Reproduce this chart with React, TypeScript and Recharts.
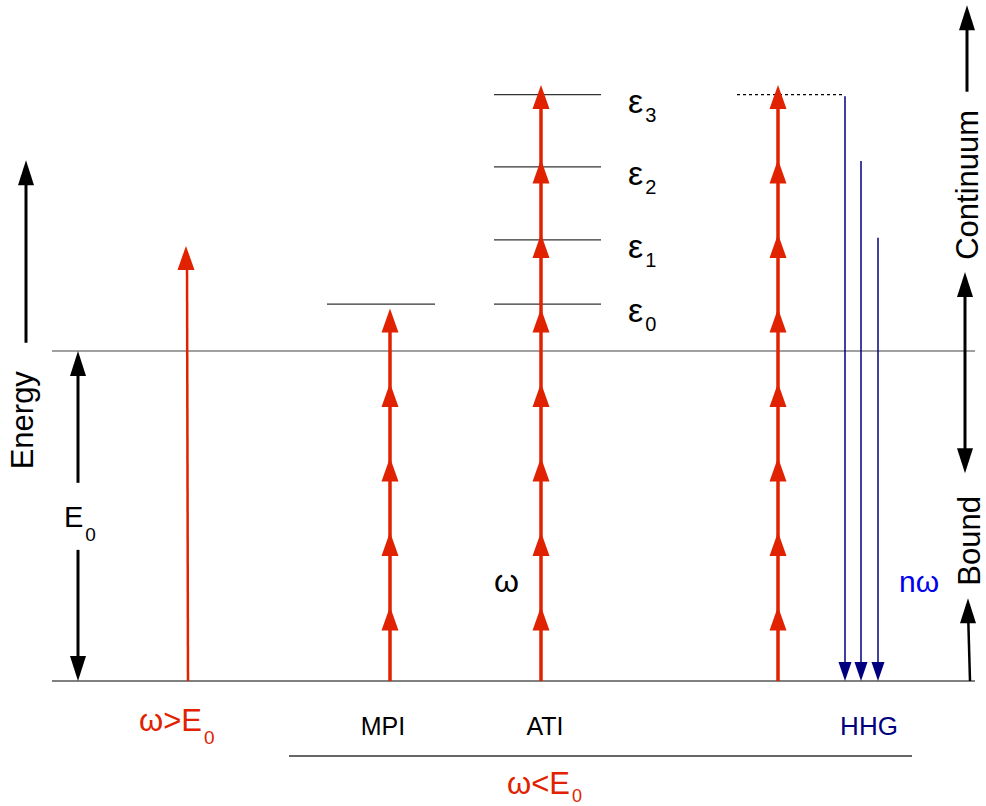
import { ScatterChart, Scatter, XAxis, YAxis, ReferenceLine } from "recharts";

// Energy is measured in photon units (ω = 1), ground state at 0.
const IONISATION = 4.43; // E0
const MPI_PHOTONS = [1, 2, 3, 4, 5];
const ATI_PHOTONS = [1, 2, 3, 4, 5, 6, 7, 8];
const HHG_PHOTONS = [1, 2, 3, 4, 5, 6, 7, 8];
const MPI_LEVEL = 5.06;
const ATI_LEVELS = [5.06, 5.92, 6.9, 7.87]; // ε0..ε3
const ATI_SUBSCRIPTS = ["0", "1", "2", "3"];
const SINGLE_PHOTON = 5.84; // ω > E0
const HHG_EMISSION = [7.85, 6.98, 5.95]; // nω recombination lines
const PROCESS_NAMES = ["MPI", "ATI", "HHG"];

const RED = "#e02200";
const NAVY = "#00007f";
const BLUE = "#0000ee";
const FONT = "'Liberation Sans', Arial, sans-serif";

// column positions on the horizontal axis
const X_SINGLE = 187;
const X_MPI = 390;
const X_ATI = 541;
const X_HHG = 778;
const X_EMIT = [845, 861, 878];

const Y_MIN = -1.678;
const Y_MAX = 9.141;

type Pt = { x: number; y: number; [k: string]: any };

const head =
  (color: string, w: number, h: number, dir: "up" | "down") =>
  (props: any) => {
    const { cx, cy } = props;
    const s = dir === "up" ? 1 : -1;
    const d = `M${cx},${cy} L${cx - w / 2},${cy + s * h} L${cx + w / 2},${cy + s * h} Z`;
    return <path d={d} fill={color} />;
  };

const label = (props: any) => {
  const { cx, cy, payload } = props;
  const p = payload;
  const tr = p.rotate ? `rotate(${p.rotate} ${cx} ${cy})` : undefined;
  return (
    <text
      x={cx}
      y={cy + (p.dy || 0)}
      transform={tr}
      fill={p.color || "#000"}
      fontSize={p.size}
      fontFamily={FONT}
      textAnchor={p.anchor || "start"}
      dominantBaseline={p.rotate ? "central" : "alphabetic"}
    >
      {p.text}
      {p.sub && (
        <tspan fontSize={p.subSize || 19} dx={p.subDx || 2} dy={p.subDy || 12}>
          {p.sub}
        </tspan>
      )}
    </text>
  );
};

const seg = (x1: number, y1: number, x2: number, y2: number, stroke: string, w: number, dash?: string) => (
  <ReferenceLine
    key={`${x1}-${y1}-${x2}-${y2}-${stroke}`}
    segment={[
      { x: x1, y: y1 },
      { x: x2, y: y2 },
    ]}
    stroke={stroke}
    strokeWidth={w}
    strokeDasharray={dash}
    ifOverflow="visible"
  />
);

export default function App() {
  const photonHeads: Pt[] = [
    ...MPI_PHOTONS.map((k) => ({ x: X_MPI, y: k })),
    ...ATI_PHOTONS.map((k) => ({ x: X_ATI, y: k })),
    ...HHG_PHOTONS.map((k) => ({ x: X_HHG, y: k })),
  ];
  const emitHeads: Pt[] = X_EMIT.map((x) => ({ x, y: 0 }));

  const blackUp: Pt[] = [
    { x: 26, y: 6.99 },
    { x: 78, y: IONISATION },
    { x: 967, y: 9.07 },
    { x: 965, y: 5.49 },
    { x: 968, y: 1.11 },
  ];
  const blackDown: Pt[] = [
    { x: 78, y: 0 },
    { x: 965, y: 2.79 },
  ];

  const labels: Pt[] = [
    { x: 23, y: 3.5, text: "Energy", rotate: -90, size: 31, anchor: "middle" },
    { x: 968, y: 6.66, text: "Continuum", rotate: -90, size: 31, anchor: "middle" },
    { x: 970, y: 1.88, text: "Bound", rotate: -90, size: 31, anchor: "middle" },
    { x: 64, y: 2.07, text: "E", sub: "0", size: 29, subDy: 14 },
    ...ATI_LEVELS.map((e, i) => ({
      x: 628,
      y: e,
      dy: 18,
      text: "ε",
      sub: ATI_SUBSCRIPTS[i],
      size: 34,
      subSize: 20,
      subDy: 9,
      subDx: 0,
    })),
    { x: 494, y: 1.19, text: "ω", size: 32 },
    { x: 899, y: 1.19, text: "nω", size: 30, color: BLUE },
    { x: 139, y: -0.671, text: "ω>E", sub: "0", size: 31, color: RED, subDy: 13 },
    { x: 383, y: -0.725, text: PROCESS_NAMES[0], size: 25, anchor: "middle" },
    { x: 545, y: -0.725, text: PROCESS_NAMES[1], size: 25, anchor: "middle" },
    { x: 869, y: -0.725, text: PROCESS_NAMES[2], size: 26, anchor: "middle", color: NAVY },
    { x: 507, y: -1.52, text: "ω<E", sub: "0", size: 31, color: RED, subDy: 8, subSize: 18 },
  ];

  const lastMpi = MPI_PHOTONS[MPI_PHOTONS.length - 1];
  const lastAti = ATI_PHOTONS[ATI_PHOTONS.length - 1];
  const lastHhg = HHG_PHOTONS[HHG_PHOTONS.length - 1];

  return (
    <div style={{ position: "absolute", left: 0, top: 0, background: "#fff" }}>
      <ScatterChart width={986} height={806} margin={{ top: 0, right: 0, bottom: 0, left: 0 }}>
        <XAxis type="number" dataKey="x" domain={[0, 986]} hide allowDataOverflow />
        <YAxis type="number" dataKey="y" domain={[Y_MIN, Y_MAX]} hide allowDataOverflow />

        {/* ground state and ionisation threshold */}
        {seg(52, 0, 975, 0, "#808080", 2)}
        {seg(52, IONISATION, 975, IONISATION, "#808080", 1.5)}

        {/* final states */}
        {seg(327, MPI_LEVEL, 435, MPI_LEVEL, "#333", 1.3)}
        {ATI_LEVELS.map((e) => seg(494, e, 601, e, "#333", 1.3))}
        {seg(737, ATI_LEVELS[3], 845, ATI_LEVELS[3], "#000", 1.2, "3 3")}

        {/* photon absorption */}
        {seg(X_SINGLE + 1, 0, X_SINGLE, SINGLE_PHOTON - 0.2, RED, 2.5)}
        {seg(X_MPI, 0, X_MPI, lastMpi - 0.2, RED, 3.5)}
        {seg(X_ATI, 0, X_ATI, lastAti - 0.2, RED, 3.5)}
        {seg(X_HHG, 0, X_HHG, lastHhg - 0.2, RED, 3.5)}

        {/* harmonic emission */}
        {HHG_EMISSION.map((e, i) => seg(X_EMIT[i], e, X_EMIT[i], 0.2, NAVY, 1.5))}

        {/* axis arrows */}
        {seg(26, 4.54, 26, 6.8, "#000", 3)}
        {seg(78, 2.66, 78, IONISATION - 0.2, "#000", 3)}
        {seg(78, 0.2, 78, 1.76, "#000", 3)}
        {seg(967, 7.91, 967, 8.9, "#000", 3)}
        {seg(965, 3.0, 965, 5.3, "#000", 3)}
        {seg(970, 0, 968, 0.95, "#000", 2.5)}

        {/* grouping rule under the bound-bound processes */}
        {seg(289, -1.007, 912, -1.007, "#333", 1.3)}

        <Scatter data={photonHeads} shape={head(RED, 17, 24, "up")} isAnimationActive={false} />
        <Scatter data={[{ x: X_SINGLE - 1, y: SINGLE_PHOTON }]} shape={head(RED, 17, 24, "up")} isAnimationActive={false} />
        <Scatter data={emitHeads} shape={head(NAVY, 13, 19, "down")} isAnimationActive={false} />
        <Scatter data={blackUp} shape={head("#000", 16, 25, "up")} isAnimationActive={false} />
        <Scatter data={blackDown} shape={head("#000", 16, 25, "down")} isAnimationActive={false} />
        <Scatter data={labels} shape={label} isAnimationActive={false} />
      </ScatterChart>
    </div>
  );
}
